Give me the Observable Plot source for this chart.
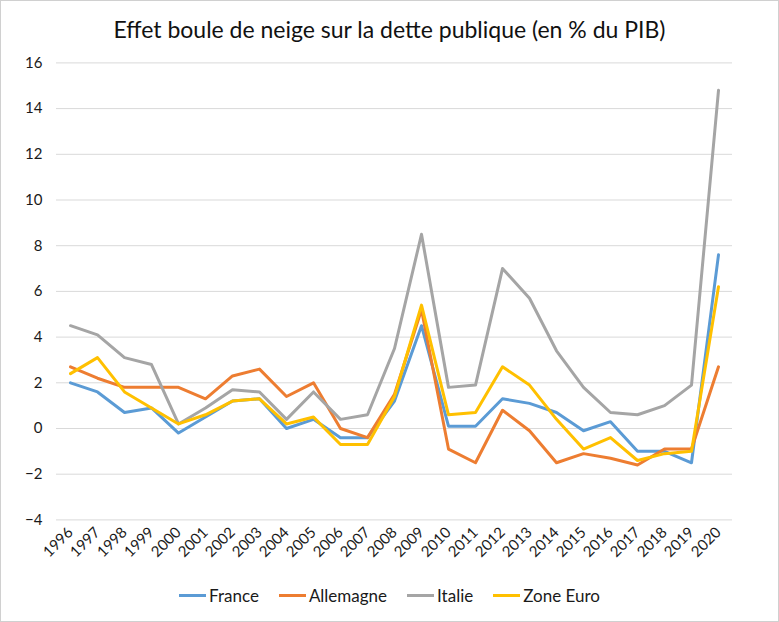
<!DOCTYPE html>
<html>
<head>
<meta charset="utf-8">
<script src="https://cdn.jsdelivr.net/npm/d3@7"></script>
<script src="https://cdn.jsdelivr.net/npm/@observablehq/plot@0.6"></script>
<style>
  html, body { margin: 0; padding: 0; background: #fff; }
  #chart { position: relative; width: 779px; height: 622px; overflow: hidden; background: #fff;
           box-shadow: inset 0 0 0 1px #d0d0d0; font-family: Lato, "Open Sans", sans-serif; color: #1a1a1a; }
  #title { height: 50px; line-height: 58px; text-align: center; font-size: 23px; color: #111; }
  #plot svg { display: block; }
  #legend { position: absolute; left: 0; top: 575px; width: 779px; height: 40px; display: flex;
            justify-content: center; align-items: center; font-size: 17px; color: #1a1a1a; }
  .item { display: flex; align-items: center; margin: 0 10px; }
  .sw { width: 27px; height: 3px; margin-right: 3px; }
</style>
</head>
<body>
<div id="chart">
  <div id="title">Effet boule de neige sur la dette publique (en % du PIB)</div>
  <div id="plot"></div>
  <div id="legend"></div>
</div>
<script>
const years = ["1996","1997","1998","1999","2000","2001","2002","2003","2004","2005","2006","2007","2008","2009","2010","2011","2012","2013","2014","2015","2016","2017","2018","2019","2020"];
const seriesNames = ["France", "Allemagne", "Italie", "Zone Euro"];
const seriesColors = ["#5B9BD5", "#ED7D31", "#A5A5A5", "#FFC000"];
const france    = [2.0, 1.6, 0.7, 0.9, -0.2, 0.5, 1.2, 1.3, 0.0, 0.4, -0.4, -0.4, 1.2, 4.5, 0.1, 0.1, 1.3, 1.1, 0.7, -0.1, 0.3, -1.0, -1.0, -1.5, 7.6];
const allemagne = [2.7, 2.2, 1.8, 1.8, 1.8, 1.3, 2.3, 2.6, 1.4, 2.0, 0.0, -0.4, 1.5, 5.2, -0.9, -1.5, 0.8, -0.1, -1.5, -1.1, -1.3, -1.6, -0.9, -0.9, 2.7];
const italie    = [4.5, 4.1, 3.1, 2.8, 0.2, 0.9, 1.7, 1.6, 0.4, 1.6, 0.4, 0.6, 3.5, 8.5, 1.8, 1.9, 7.0, 5.7, 3.4, 1.8, 0.7, 0.6, 1.0, 1.9, 14.8];
const zoneEuro  = [2.4, 3.1, 1.6, 0.9, 0.2, 0.6, 1.2, 1.3, 0.2, 0.5, -0.7, -0.7, 1.4, 5.4, 0.6, 0.7, 2.7, 1.9, 0.4, -0.9, -0.4, -1.4, -1.1, -1.0, 6.2];
const yTicks = [-4, -2, 0, 2, 4, 6, 8, 10, 12, 14, 16];

const allValues = [france, allemagne, italie, zoneEuro];
const data = [];
seriesNames.forEach((s, i) => {
  years.forEach((y, j) => data.push({series: s, year: y, value: allValues[i][j]}));
});

const plot = Plot.plot({
  width: 779,
  height: 525,
  marginTop: 12.4,
  marginBottom: 55.6,
  marginLeft: 56,
  marginRight: 47,
  style: {fontFamily: "Lato, 'Open Sans', sans-serif", fontSize: "15px", color: "#1a1a1a", background: "transparent"},
  x: {type: "point", domain: years, padding: 0.5},
  y: {domain: [-4, 16]},
  color: {domain: seriesNames, range: seriesColors},
  marks: [
    Plot.ruleY(yTicks, {stroke: "#d9d9d9", strokeWidth: 1}),
    Plot.axisY({ticks: yTicks, tickSize: 0, tickPadding: 14, label: null}),
    Plot.axisX({tickSize: 0, tickRotate: -45, tickPadding: 10, label: null}),
    Plot.line(data, {x: "year", y: "value", z: "series", stroke: "series", strokeWidth: 3,
                     strokeLinejoin: "round", strokeLinecap: "round"})
  ]
});
document.getElementById("plot").appendChild(plot);

const legend = document.getElementById("legend");
seriesNames.forEach((s, i) => {
  const item = document.createElement("div");
  item.className = "item";
  const sw = document.createElement("div");
  sw.className = "sw";
  sw.style.background = seriesColors[i];
  const t = document.createElement("span");
  t.textContent = s;
  item.appendChild(sw);
  item.appendChild(t);
  legend.appendChild(item);
});
</script>
</body>
</html>
